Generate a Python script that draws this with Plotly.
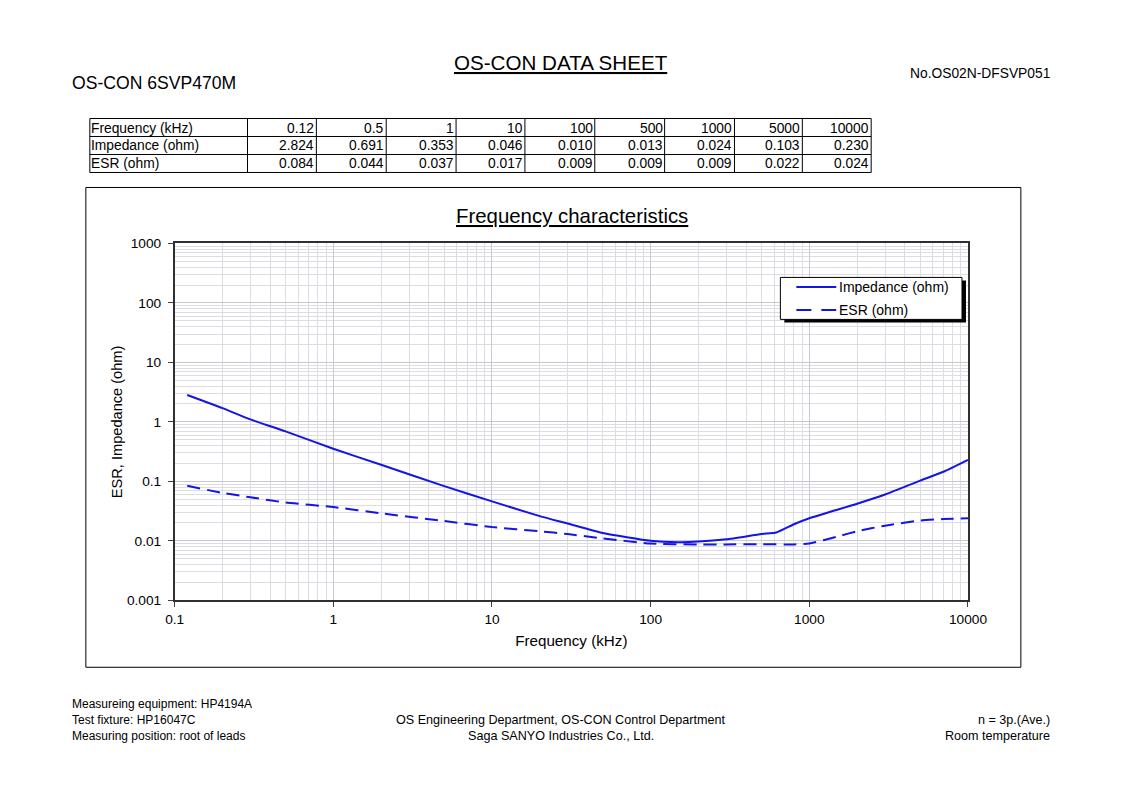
import plotly.graph_objects as go

# figure size kept a bit smaller than the window so the page never overflows
FW, FH = 1100, 772
OX, OY = 8, 8  # body margin of the page
# measured mapping from page css px to the photographed picture
SX_A, SX_B = 0.9757, 9.2
SY_A, SY_B = 0.981, 6.6
PAD = 3  # annotation inner padding

# ---- data ----
row_labels = ["Frequency (kHz)", "Impedance (ohm)", "ESR (ohm)"]
table_freq = ["0.12", "0.5", "1", "10", "100", "500", "1000", "5000", "10000"]
table_imp = ["2.824", "0.691", "0.353", "0.046", "0.010", "0.013", "0.024", "0.103", "0.230"]
table_esr = ["0.084", "0.044", "0.037", "0.017", "0.009", "0.009", "0.009", "0.022", "0.024"]

freq_imp = [0.12, 0.2, 0.3, 0.5, 1, 2, 5, 10, 20, 30, 50, 100, 150, 200, 300, 500, 620, 800, 1000, 2000, 3000, 5000, 7000, 10000]
imp = [2.824, 1.70, 1.10, 0.691, 0.353, 0.19, 0.083, 0.046, 0.026, 0.0195, 0.0135, 0.010, 0.0095, 0.0097, 0.0106, 0.013, 0.0138, 0.019, 0.024, 0.042, 0.060, 0.103, 0.145, 0.230]

freq_esr = [0.12, 0.2, 0.3, 0.5, 1, 2, 5, 10, 20, 30, 50, 100, 200, 300, 500, 800, 1000, 1500, 2000, 3000, 5000, 7000, 10000]
esr = [0.084, 0.064, 0.054, 0.044, 0.037, 0.029, 0.0215, 0.017, 0.0145, 0.013, 0.011, 0.009, 0.0087, 0.0087, 0.0088, 0.0087, 0.009, 0.0118, 0.0145, 0.018, 0.022, 0.0232, 0.024]

x_ticks = [0.1, 1, 10, 100, 1000, 10000]
x_ticktext = ["0.1", "1", "10", "100", "1000", "10000"]
y_ticks = [0.001, 0.01, 0.1, 1, 10, 100, 1000]
y_ticktext = ["0.001", "0.01", "0.1", "1", "10", "100", "1000"]


def xp(px):
    css = (px - SX_B) / SX_A
    return (css - OX) / FW


def yp(py):
    css = (py - SY_B) / SY_A
    return 1 - (css - OY) / FH


FONT = "Liberation Sans, Arial, sans-serif"
BLUE = "#1414e6"

fig = go.Figure()

fig.add_trace(go.Scatter(x=freq_imp, y=imp, mode="lines", name="Impedance (ohm)",
                         line=dict(color=BLUE, width=2, shape="spline", smoothing=0.5)))
fig.add_trace(go.Scatter(x=freq_esr, y=esr, mode="lines", name="ESR (ohm)",
                         line=dict(color=BLUE, width=2, dash="13px,7px", shape="spline", smoothing=0.5)))

shapes = []
annotations = []

# ---- table (grid + text) ----
col_edges = [89, 247, 316, 386, 456, 525, 595, 665, 735, 803, 872]
row_edges = [118, 136, 154, 172]
for xe in col_edges:
    shapes.append(dict(type="line", xref="paper", yref="paper", x0=xp(xe), x1=xp(xe),
                       y0=yp(row_edges[0]), y1=yp(row_edges[-1]), line=dict(color="black", width=1)))
for ye in row_edges:
    shapes.append(dict(type="line", xref="paper", yref="paper", x0=xp(col_edges[0]), x1=xp(col_edges[-1]),
                       y0=yp(ye), y1=yp(ye), line=dict(color="black", width=1)))
rows = [table_freq, table_imp, table_esr]
for r, (label, vals) in enumerate(zip(row_labels, rows)):
    yc = (row_edges[r] + row_edges[r + 1]) / 2 + 0.5
    annotations.append(dict(text=label, x=xp(col_edges[0] + 2 - PAD), y=yp(yc), xanchor="left",
                            font=dict(size=13.8)))
    for c, v in enumerate(vals):
        annotations.append(dict(text=v, x=xp(col_edges[c + 2] - 3 + PAD), y=yp(yc), xanchor="right",
                                font=dict(size=13.8)))

# ---- chart frame ----
shapes.append(dict(type="rect", xref="paper", yref="paper", x0=xp(85), x1=xp(1022), y0=yp(667), y1=yp(187),
                   line=dict(color="black", width=1), layer="below"))

# ---- legend (box, shadow, samples) ----
lx0, lx1, ly0, ly1 = 781, 963, 277, 319
shapes.append(dict(type="rect", xref="paper", yref="paper", x0=xp(lx0 + 4), x1=xp(lx1 + 4), y0=yp(ly1 + 3), y1=yp(ly0 + 3),
                   line=dict(width=0), fillcolor="black", layer="above"))
shapes.append(dict(type="rect", xref="paper", yref="paper", x0=xp(lx0), x1=xp(lx1), y0=yp(ly1), y1=yp(ly0),
                   line=dict(color="black", width=1), fillcolor="white", layer="above"))
legend_items = [("Impedance (ohm)", "solid", 286.5), ("ESR (ohm)", "dash", 309.5)]
for name, dash, yy in legend_items:
    shapes.append(dict(type="line", xref="paper", yref="paper", x0=xp(797), x1=xp(837), y0=yp(yy), y1=yp(yy),
                       line=dict(color=BLUE, width=2, dash="15px,10px" if dash == "dash" else "solid"), layer="above"))
    annotations.append(dict(text=name, x=xp(837.5), y=yp(yy), xanchor="left", font=dict(size=14)))

annotations += [
    dict(text="<u>OS-CON DATA SHEET</u>", x=xp(561), y=yp(62), font=dict(size=20.6)),
    dict(text="OS-CON 6SVP470M", x=xp(72 - PAD), y=yp(82), xanchor="left", font=dict(size=17.6)),
    dict(text="No.OS02N-DFSVP051", x=xp(1050 + PAD), y=yp(73), xanchor="right", font=dict(size=13.8)),
    dict(text="<u>Frequency characteristics</u>", x=xp(572), y=yp(216), font=dict(size=20.4)),
    dict(text="Measureing equipment: HP4194A", x=xp(72 - PAD), y=yp(704), xanchor="left", font=dict(size=12)),
    dict(text="Test fixture: HP16047C", x=xp(72 - PAD), y=yp(720), xanchor="left", font=dict(size=12)),
    dict(text="Measuring position: root of leads", x=xp(72 - PAD), y=yp(736), xanchor="left", font=dict(size=12)),
    dict(text="OS Engineering Department, OS-CON Control Department", x=xp(561), y=yp(720), font=dict(size=12.6)),
    dict(text="Saga SANYO Industries Co., Ltd.", x=xp(561), y=yp(736), font=dict(size=12.6)),
    dict(text="n = 3p.(Ave.)", x=xp(1050 + PAD), y=yp(720), xanchor="right", font=dict(size=12.6)),
    dict(text="Room temperature", x=xp(1050 + PAD), y=yp(736), xanchor="right", font=dict(size=12.6)),
]
for a in annotations:
    a.update(xref="paper", yref="paper", showarrow=False, yanchor="middle")
    a.setdefault("xanchor", "center")
    a["font"].update(family=FONT, color="black")

fig.update_layout(
    width=FW, height=FH, autosize=False,
    margin=dict(l=0, r=0, t=0, b=0),
    paper_bgcolor="white", plot_bgcolor="white",
    font=dict(family=FONT, color="black", size=13),
    shapes=shapes, annotations=annotations,
    showlegend=False,
    xaxis=dict(type="log", range=[-1, 4], domain=[xp(174), xp(969)],
               tickvals=x_ticks, ticktext=x_ticktext, ticks="outside", ticklen=5, tickcolor="#404040",
               ticklabelstandoff=1,
               showline=True, linecolor="#303030", linewidth=1.5, mirror=True,
               showgrid=True, gridcolor="#c8c8d0", gridwidth=1,
               minor=dict(showgrid=True, gridcolor="#dcdce4", gridwidth=1, dtick="D1"),
               title=dict(text="Frequency (kHz)", font=dict(size=15.2), standoff=9),
               tickfont=dict(size=13.7), zeroline=False),
    yaxis=dict(type="log", range=[-3, 3], domain=[yp(600), yp(243)],
               tickvals=y_ticks, ticktext=y_ticktext, ticks="outside", ticklen=5, tickcolor="#404040",
               ticklabelstandoff=4,
               showline=True, linecolor="#303030", linewidth=1.5, mirror=True,
               showgrid=True, gridcolor="#c8c8d0", gridwidth=1,
               minor=dict(showgrid=True, gridcolor="#dcdce4", gridwidth=1, dtick="D1"),
               title=dict(text="ESR, Impedance (ohm)", font=dict(size=14.6), standoff=1),
               tickfont=dict(size=13.7), zeroline=False),
)

fig.write_html("out.html")
